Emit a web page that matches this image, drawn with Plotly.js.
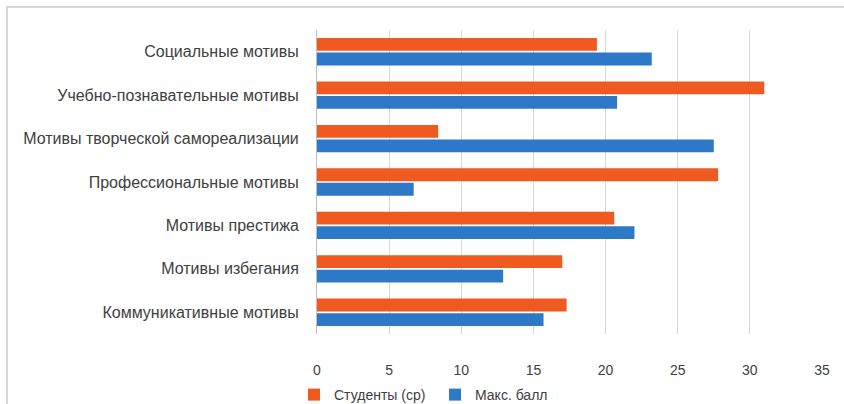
<!DOCTYPE html>
<html><head><meta charset="utf-8">
<script src="https://cdn.plot.ly/plotly-3.0.1.min.js"></script>
<style>html,body{margin:0;padding:0;background:#fff}#chart{width:844px;height:404px}</style>
</head><body><div id="chart"></div>
<script>
// Categories listed bottom-to-top
const categories = [
  "Коммуникативные мотивы",
  "Мотивы избегания",
  "Мотивы престижа",
  "Профессиональные мотивы",
  "Мотивы творческой самореализации",
  "Учебно-познавательные мотивы",
  "Социальные мотивы"
];
const studentsAvg = [17.3, 17.0, 20.6, 27.8, 8.4, 31.0, 19.4];
const maxScore    = [15.7, 12.9, 22.0, 6.7, 27.5, 20.8, 23.2];
const xTicks = [0, 5, 10, 15, 20, 25, 30, 35];

const W = 844, H = 404, ML = 317, MR = 22, MT = 30, MB = 70;
const pw = W - ML - MR, ph = H - MT - MB;
const px2x = p => (p - ML) / pw;
const py2y = p => (H - MB - p) / ph;

const textColor = "#404040";
const fam = "Liberation Sans, Arial, sans-serif";

const traces = [
  {type: "bar", orientation: "h", name: "Макс. балл", y: categories, x: maxScore,
   marker: {color: "#2E78C8"}, hoverinfo: "x+y"},
  {type: "bar", orientation: "h", name: "Студенты (ср)", y: categories, x: studentsAvg,
   marker: {color: "#EE5A1F"}, hoverinfo: "x+y"}
];

const layout = {
  width: W, height: H,
  margin: {l: ML, r: MR, t: MT, b: MB, pad: 0, autoexpand: false},
  paper_bgcolor: "#fff", plot_bgcolor: "#fff",
  font: {family: fam, size: 14, color: textColor},
  barmode: "group", bargap: 0.33, bargroupgap: 0.12,
  showlegend: true,
  legend: {orientation: "h", traceorder: "reversed", x: px2x(294), xanchor: "left",
           yref: "container", y: (H - 395) / H, yanchor: "middle",
           font: {family: fam, size: 14, color: textColor},
           entrywidth: 96, entrywidthmode: "pixels", bgcolor: "rgba(0,0,0,0)"},
  xaxis: {range: [0, 35], tickvals: xTicks, ticktext: xTicks.map(String),
          showgrid: true, gridcolor: "#d9d9d9", gridwidth: 1, zeroline: false,
          showline: false, ticks: "", ticklabelstandoff: 26,
          tickfont: {family: fam, size: 14, color: textColor}, fixedrange: true},
  yaxis: {type: "category", showgrid: false, zeroline: false, showline: true,
          linecolor: "#bfbfbf", linewidth: 1, ticks: "", ticklabelstandoff: 14,
          tickfont: {family: fam, size: 16, color: textColor}, fixedrange: true},
  shapes: [
    {type: "line", xref: "paper", yref: "paper", x0: px2x(6), x1: px2x(844), y0: py2y(7), y1: py2y(7),
     line: {color: "#d6d6d6", width: 2}},
    {type: "line", xref: "paper", yref: "paper", x0: px2x(7), x1: px2x(7), y0: py2y(7), y1: py2y(404),
     line: {color: "#d6d6d6", width: 2}}
  ]
};

Plotly.newPlot("chart", traces, layout, {displayModeBar: false, staticPlot: true});
</script></body></html>
